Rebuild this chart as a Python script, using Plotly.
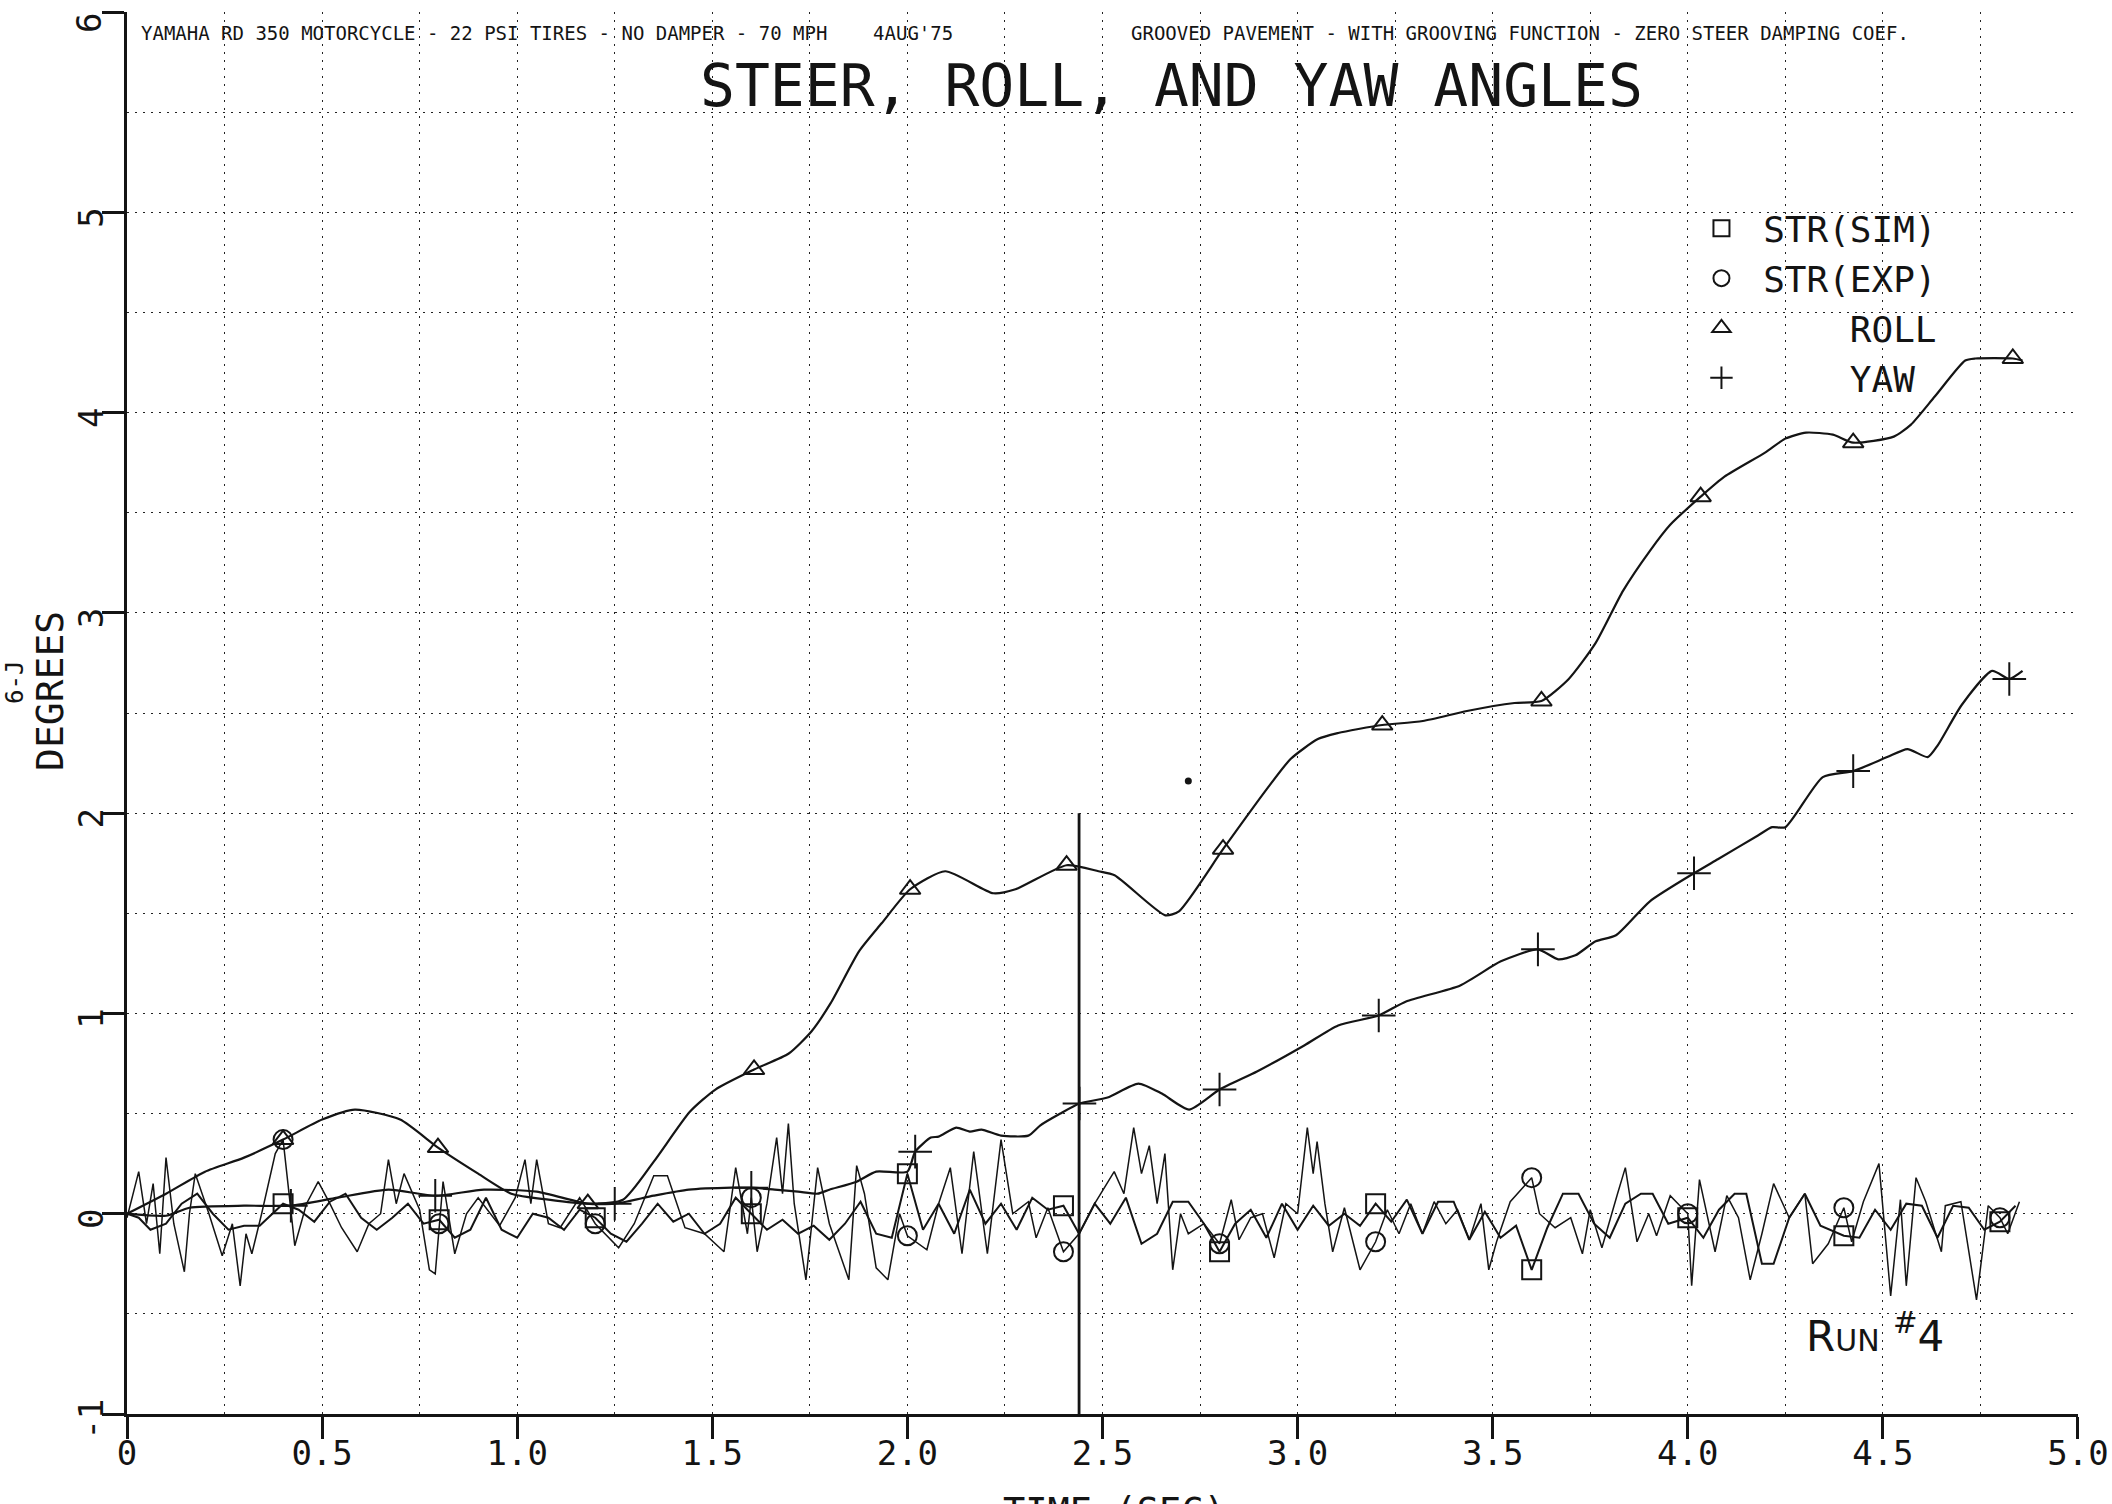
import numpy as np
import plotly.graph_objects as go

INK = "#141414"
FONT = "DejaVu Sans Mono"

# ---------------- data ----------------
roll_t = [0.000, 0.100, 0.200, 0.300, 0.400, 0.500, 0.584, 0.700, 0.797, 0.900,
          0.985, 1.080, 1.181, 1.271, 1.350, 1.443, 1.508, 1.607, 1.696, 1.754,
          1.803, 1.876, 1.934, 2.007, 2.097, 2.220, 2.277, 2.408, 2.490, 2.531,
          2.661, 2.696, 2.809, 2.921, 2.982, 3.052, 3.104, 3.156, 3.217, 3.321,
          3.434, 3.556, 3.625, 3.695, 3.764, 3.834, 3.903, 3.955, 4.033, 4.094,
          4.198, 4.250, 4.303, 4.372, 4.424, 4.528, 4.572, 4.633, 4.711, 4.737,
          4.833, 4.858]
roll_v = [0.00, 0.10, 0.21, 0.28, 0.37, 0.47, 0.52, 0.47, 0.33, 0.20,
          0.10, 0.07, 0.05, 0.07, 0.26, 0.51, 0.62, 0.72, 0.80, 0.91,
          1.05, 1.31, 1.45, 1.62, 1.71, 1.60, 1.62, 1.74, 1.71, 1.69,
          1.49, 1.51, 1.82, 2.12, 2.27, 2.37, 2.40, 2.42, 2.44, 2.46,
          2.51, 2.55, 2.56, 2.67, 2.85, 3.11, 3.31, 3.44, 3.58, 3.68,
          3.80, 3.87, 3.90, 3.89, 3.85, 3.88, 3.94, 4.08, 4.26, 4.27,
          4.27, 4.26]

yaw_t = [0.000, 0.100, 0.160, 0.300, 0.420, 0.540, 0.670, 0.790, 0.915, 1.050,
         1.180, 1.250, 1.350, 1.440, 1.550, 1.600, 1.660, 1.720, 1.770, 1.800,
         1.870, 1.920, 2.000, 2.020, 2.060, 2.080, 2.125, 2.160, 2.190, 2.240,
         2.310, 2.340, 2.392, 2.441, 2.513, 2.592, 2.652, 2.722, 2.800, 2.896,
         3.017, 3.104, 3.208, 3.278, 3.417, 3.521, 3.616, 3.668, 3.712, 3.764,
         3.816, 3.903, 4.016, 4.077, 4.181, 4.216, 4.250, 4.346, 4.424, 4.511,
         4.563, 4.615, 4.641, 4.702, 4.780, 4.824, 4.858]
yaw_v = [0.00, -0.01, 0.03, 0.04, 0.04, 0.08, 0.12, 0.09, 0.12, 0.11,
         0.05, 0.05, 0.09, 0.12, 0.13, 0.13, 0.12, 0.11, 0.10, 0.12,
         0.16, 0.21, 0.21, 0.31, 0.38, 0.385, 0.43, 0.41, 0.42, 0.39,
         0.39, 0.44, 0.50, 0.55, 0.58, 0.65, 0.60, 0.52, 0.62, 0.71,
         0.84, 0.94, 0.99, 1.06, 1.14, 1.26, 1.32, 1.27, 1.29, 1.36,
         1.39, 1.56, 1.70, 1.77, 1.89, 1.93, 1.93, 2.18, 2.21, 2.28,
         2.32, 2.28, 2.34, 2.54, 2.71, 2.67, 2.71]

sim_t = [0.00, 0.03, 0.06, 0.10, 0.14, 0.18, 0.22, 0.26, 0.30, 0.34,
         0.40, 0.44, 0.48, 0.52, 0.56, 0.60, 0.64, 0.68, 0.72, 0.76,
         0.80, 0.84, 0.88, 0.92, 0.96, 1.00, 1.04, 1.08, 1.12, 1.16,
         1.20, 1.24, 1.28, 1.32, 1.36, 1.40, 1.44, 1.48, 1.52, 1.56,
         1.60, 1.64, 1.68, 1.72, 1.76, 1.80, 1.84, 1.88, 1.92, 1.96,
         2.00, 2.04, 2.08, 2.12, 2.16, 2.20, 2.24, 2.28, 2.32, 2.36,
         2.40, 2.44, 2.48, 2.52, 2.56, 2.60, 2.64, 2.68, 2.72, 2.76,
         2.80, 2.84, 2.88, 2.92, 2.96, 3.00, 3.04, 3.08, 3.12, 3.16,
         3.20, 3.24, 3.28, 3.32, 3.36, 3.40, 3.44, 3.48, 3.52, 3.56,
         3.60, 3.64, 3.68, 3.72, 3.76, 3.80, 3.84, 3.88, 3.91, 3.95,
         4.00, 4.04, 4.08, 4.12, 4.15, 4.19, 4.22, 4.26, 4.30, 4.34,
         4.40, 4.44, 4.48, 4.52, 4.56, 4.60, 4.64, 4.68, 4.72, 4.76,
         4.80, 4.84]
sim_v = [0.00, -0.02, -0.08, -0.05, 0.05, 0.10, 0.00, -0.08, -0.06, -0.06,
         0.05, 0.02, -0.04, 0.06, 0.10, -0.02, -0.08, -0.02, 0.05, -0.05,
         -0.03, -0.12, -0.08, 0.08, -0.08, -0.12, 0.00, -0.02, -0.08, 0.02,
         -0.02, -0.10, -0.14, -0.05, 0.05, -0.04, 0.00, -0.10, -0.05, 0.08,
         0.00, -0.08, -0.03, -0.10, -0.06, -0.13, -0.05, 0.06, -0.10, -0.12,
         0.20, -0.08, 0.05, -0.10, 0.12, -0.05, 0.05, -0.08, 0.08, 0.02,
         0.04, -0.10, 0.05, -0.05, 0.08, -0.15, -0.10, 0.06, 0.06, -0.05,
         -0.19, -0.05, 0.02, -0.12, 0.05, -0.08, 0.04, -0.06, 0.00, -0.06,
         0.05, -0.04, 0.07, -0.10, 0.06, 0.06, -0.13, 0.01, -0.12, -0.06,
         -0.28, -0.07, 0.10, 0.10, -0.05, -0.12, 0.05, 0.10, 0.10, -0.05,
         -0.02, -0.12, 0.02, 0.10, 0.10, -0.25, -0.25, -0.02, 0.10, -0.06,
         -0.11, -0.12, 0.02, -0.08, 0.05, 0.04, -0.12, 0.04, 0.03, -0.08,
         -0.04, 0.04]

exp_t = [0.00, 0.03, 0.05, 0.067, 0.084, 0.10, 0.12, 0.147, 0.16, 0.175,
         0.21, 0.244, 0.27, 0.29, 0.305, 0.32, 0.345, 0.38, 0.40, 0.43,
         0.46, 0.49, 0.52, 0.55, 0.59, 0.62, 0.65, 0.67, 0.69, 0.71,
         0.75, 0.775, 0.79, 0.80, 0.81, 0.84, 0.87, 0.90, 0.955, 0.995,
         1.02, 1.035, 1.05, 1.08, 1.11, 1.16, 1.20, 1.26, 1.30, 1.35,
         1.385, 1.43, 1.48, 1.53, 1.56, 1.59, 1.60, 1.615, 1.64, 1.665,
         1.68, 1.695, 1.71, 1.74, 1.77, 1.80, 1.85, 1.87, 1.89, 1.92,
         1.95, 1.98, 2.00, 2.05, 2.08, 2.11, 2.14, 2.17, 2.205, 2.24,
         2.27, 2.31, 2.33, 2.36, 2.40, 2.44, 2.48, 2.53, 2.555, 2.58,
         2.60, 2.62, 2.64, 2.66, 2.68, 2.70, 2.72, 2.76, 2.80, 2.83,
         2.85, 2.88, 2.91, 2.94, 2.97, 3.00, 3.025, 3.04, 3.05, 3.07,
         3.09, 3.12, 3.16, 3.20, 3.23, 3.26, 3.29, 3.32, 3.35, 3.38,
         3.41, 3.44, 3.47, 3.49, 3.51, 3.545, 3.60, 3.62, 3.66, 3.70,
         3.73, 3.75, 3.78, 3.82, 3.84, 3.87, 3.90, 3.92, 3.955, 4.00,
         4.01, 4.03, 4.07, 4.10, 4.13, 4.16, 4.19, 4.22, 4.26, 4.30,
         4.32, 4.36, 4.40, 4.42, 4.45, 4.49, 4.52, 4.545, 4.56, 4.585,
         4.61, 4.65, 4.66, 4.70, 4.74, 4.77, 4.80, 4.82, 4.85]
exp_v = [-0.02, 0.21, -0.05, 0.15, -0.20, 0.28, -0.05, -0.29, 0.00, 0.20,
         0.00, -0.21, -0.05, -0.36, -0.10, -0.20, 0.00, 0.30, 0.37, -0.16,
         0.05, 0.16, 0.05, -0.07, -0.19, -0.05, 0.00, 0.27, 0.05, 0.20,
         0.02, -0.28, -0.30, -0.05, 0.16, -0.20, 0.00, 0.08, -0.06, 0.08,
         0.27, 0.05, 0.27, -0.05, -0.07, 0.08, -0.05, -0.17, -0.05, 0.19,
         0.19, -0.07, -0.10, -0.19, 0.23, -0.10, 0.08, -0.19, 0.05, 0.38,
         0.10, 0.45, 0.05, -0.33, 0.23, -0.05, -0.33, 0.24, 0.10, -0.27,
         -0.33, 0.00, -0.11, -0.18, 0.05, 0.23, -0.20, 0.31, -0.20, 0.37,
         0.00, 0.06, -0.12, 0.03, -0.19, -0.10, 0.05, 0.21, 0.10, 0.43,
         0.20, 0.34, 0.05, 0.30, -0.28, 0.00, -0.10, -0.05, -0.15, 0.07,
         -0.13, -0.02, 0.00, -0.22, 0.05, 0.00, 0.43, 0.20, 0.36, 0.05,
         -0.19, 0.03, -0.28, -0.14, 0.02, -0.10, 0.05, -0.10, 0.06, -0.05,
         0.02, -0.13, 0.05, -0.28, -0.14, 0.06, 0.18, 0.00, -0.07, -0.02,
         -0.20, 0.02, -0.17, 0.10, 0.23, -0.14, 0.00, -0.11, 0.09, 0.00,
         -0.36, 0.17, -0.19, 0.09, -0.02, -0.33, -0.10, 0.15, -0.02, 0.10,
         -0.25, -0.15, 0.03, -0.14, 0.06, 0.25, -0.41, 0.07, -0.36, 0.18,
         0.06, -0.19, 0.04, 0.06, -0.43, 0.04, -0.02, -0.10, 0.06]

mark_times = [0.4, 0.8, 1.2, 1.6, 2.0, 2.4, 2.8, 3.2, 3.6, 4.0, 4.4, 4.8]
cursor_t = [2.44, 2.44]
cursor_v = [-1.0, 2.0]
speck_t = [2.72]
speck_v = [2.16]

x_ticks = [0, 0.5, 1.0, 1.5, 2.0, 2.5, 3.0, 3.5, 4.0, 4.5, 5.0]
x_ticktext = ["0", "0.5", "1.0", "1.5", "2.0", "2.5", "3.0", "3.5", "4.0", "4.5", "5.0"]
y_ticks = [-1, 0, 1, 2, 3, 4, 5, 6]
y_ticktext = ["-1", "0", "1", "2", "3", "4", "5", "6"]

NB = "\u00a0"
legend_names = [NB + "STR(SIM)", NB + "STR(EXP)", NB * 5 + "ROLL", NB * 5 + "YAW"]

for a, b in [(roll_t, roll_v), (yaw_t, yaw_v), (sim_t, sim_v), (exp_t, exp_v)]:
    assert len(a) == len(b), (len(a), len(b))


def pick(ts, vs, shift=0.0):
    ts = np.asarray(ts)
    idx = [int(np.argmin(np.abs(ts - (m + shift)))) for m in mark_times]
    return ts[idx].tolist(), np.asarray(vs)[idx].tolist()


fig = go.Figure()

fig.add_trace(go.Scatter(x=sim_t, y=sim_v, mode="lines", line=dict(color=INK, width=2.0),
                         showlegend=False, hoverinfo="skip"))
fig.add_trace(go.Scatter(x=exp_t, y=exp_v, mode="lines", line=dict(color=INK, width=1.5),
                         showlegend=False, hoverinfo="skip"))
fig.add_trace(go.Scatter(x=roll_t, y=roll_v, mode="lines",
                         line=dict(color=INK, width=2.2, shape="spline", smoothing=0.6),
                         showlegend=False, hoverinfo="skip"))
fig.add_trace(go.Scatter(x=yaw_t, y=yaw_v, mode="lines",
                         line=dict(color=INK, width=2.2, shape="spline", smoothing=0.6),
                         showlegend=False, hoverinfo="skip"))
fig.add_trace(go.Scatter(x=cursor_t, y=cursor_v, mode="lines", line=dict(color=INK, width=2.8),
                         showlegend=False, hoverinfo="skip"))
fig.add_trace(go.Scatter(x=speck_t, y=speck_v, mode="markers",
                         marker=dict(color=INK, size=7, symbol="circle"),
                         showlegend=False, hoverinfo="skip"))

series = [
    (sim_t, sim_v, 0.0, "square-open", legend_names[0], 19),
    (exp_t, exp_v, 0.0, "circle-open", legend_names[1], 19),
    (roll_t, roll_v, 0.02, "triangle-up-open", legend_names[2], 18),
    (yaw_t, yaw_v, 0.02, "cross-thin-open", legend_names[3], 24),
]
for ts, vs, sh, sym, nm, sz in series:
    mx, my = pick(ts, vs, sh)
    fig.add_trace(go.Scatter(
        x=mx, y=my, mode="markers", name=nm,
        marker=dict(symbol=sym, size=sz, color=INK, line=dict(color=INK, width=2)),
        hoverinfo="skip"))

grid = dict(showgrid=True, gridcolor="#222222", gridwidth=1.4, griddash="2px,6px")

# rotated y labels sit a little below their ticks in the original plot;
# a trailing no-break space reproduces that. The top label is drawn as an
# annotation (same offset) so that its box stays inside the page.
top_label = y_ticktext[-1]
y_labels = [s + NB for s in y_ticktext[:-1]] + [""]

fig.update_layout(
    width=2112, height=1504,
    margin=dict(l=127, r=34, t=12, b=90, autoexpand=False),
    paper_bgcolor="white", plot_bgcolor="white",
    font=dict(family=FONT, color=INK),
    showlegend=True,
    legend=dict(x=0.807, y=0.867, xanchor="left", yanchor="top",
                bgcolor="rgba(0,0,0,0)", borderwidth=0,
                font=dict(family=FONT, size=36, color=INK),
                itemsizing="trace", tracegroupgap=0),
    xaxis=dict(range=[0, 5.0001], tickvals=x_ticks, ticktext=x_ticktext,
               automargin=False,
               showline=True, linecolor=INK, linewidth=2.5,
               ticks="outside", ticklen=22, tickwidth=2.5, tickcolor=INK,
               tickfont=dict(family=FONT, size=34, color=INK),
               ticklabelstandoff=-15, zeroline=False,
               minor=dict(dtick=0.25, tick0=0, **grid, ticks=""),
               **grid),
    yaxis=dict(range=[-1, 6.0001], tickvals=y_ticks, ticktext=y_labels,
               automargin=False,
               tickangle=-90, ticklabeloverflow="allow",
               showline=True, linecolor=INK, linewidth=2.5,
               ticks="outside", ticklen=22, tickwidth=2.5, tickcolor=INK,
               tickfont=dict(family=FONT, size=34, color=INK),
               ticklabelstandoff=-14, zeroline=False,
               minor=dict(dtick=0.5, tick0=0, **grid, ticks=""),
               **grid),
)

annotations = [
    dict(text="YAMAHA RD 350 MOTORCYCLE - 22 PSI TIRES - NO DAMPER - 70 MPH " + NB * 3 + "4AUG'75",
         x=0.006, y=0.985, xanchor="left", yanchor="middle", font=dict(size=19)),
    dict(text="GROOVED PAVEMENT - WITH GROOVING FUNCTION - ZERO STEER DAMPING COEF.",
         x=0.5136, y=0.985, xanchor="left", yanchor="middle", font=dict(size=19)),
    dict(text="STEER, ROLL, AND YAW ANGLES",
         x=0.5356, y=0.947, xanchor="center", yanchor="middle", font=dict(size=58)),
    dict(text="DEGREES", textangle=-90,
         x=-0.0395, y=0.5157, xanchor="center", yanchor="middle", font=dict(size=38)),
    dict(text="6-J", textangle=-90,
         x=-0.0575, y=0.522, xanchor="center", yanchor="middle", font=dict(size=24)),
    dict(text="TIME (SEC)",
         x=0.5064, y=-0.0527, xanchor="center", yanchor="top", font=dict(size=37)),
    dict(text="R<span style='font-size:30px'>UN</span> <sup>#</sup>4",
         x=0.896, y=0.0577, xanchor="center", yanchor="middle",
         font=dict(family="DejaVu Sans", size=42)),
]
for a in annotations:
    a.update(xref="paper", yref="paper", showarrow=False)
    a["font"] = dict(family=a["font"].get("family", FONT), size=a["font"]["size"], color=INK)

annotations.append(dict(text=top_label, textangle=-90, xref="paper", yref="y",
                        x=-0.0195, y=y_ticks[-1], yshift=-11,
                        xanchor="center", yanchor="middle", showarrow=False,
                        font=dict(family=FONT, size=34, color=INK)))
fig.update_layout(annotations=annotations)

fig.write_html("out.html")
